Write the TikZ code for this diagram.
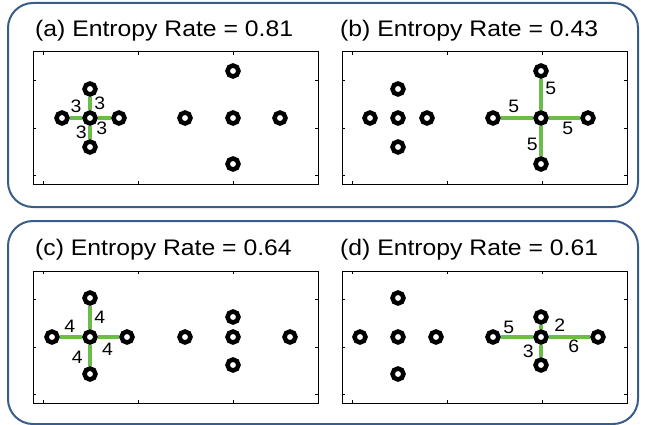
\documentclass[tikz,border=0pt]{standalone}
\usepackage{fontspec}
\setmainfont{Liberation Sans}
\usepackage{graphicx}
\usetikzlibrary{positioning}
\definecolor{frameblue}{RGB}{56,93,138}
\definecolor{edgegreen}{RGB}{104,190,70}

\newcommand\titletext[1]{\scalebox{1.1}[1]{#1}}
\newcommand\wtext[1]{\scalebox{1.08}[1]{#1}}

% box with ticks, origin at top left corner of the axes
\newcommand\axesbox{%
  \draw[axbox] (0,0) rectangle (285,132);
  \draw[tick] (10,0) -- (10,3) (105,0) -- (105,3) (200,0) -- (200,3)
    (10,132) -- (10,129) (105,132) -- (105,129) (200,132) -- (200,129)
    (0,28) -- (3,28) (0,76) -- (3,76) (0,123) -- (3,123)
    (285,28) -- (282,28) (285,76) -- (282,76) (285,123) -- (282,123);
}
% five nodes: name, centre x, left, right, up, down
\newcommand\plusgroup[6]{%
  \node[vtx] (#1c) at (#2,66) {};
  \node[vtx] (#1l) at (#2-#3,66) {};
  \node[vtx] (#1r) at (#2+#4,66) {};
  \node[vtx] (#1t) at (#2,66-#5) {};
  \node[vtx] (#1b) at (#2,66+#6) {};
}

\tikzset{
  frame/.style={draw=frameblue, line width=2pt, rounded corners=25pt},
  axbox/.style={draw=black, line width=1pt},
  tick/.style={draw=black, line width=0.7pt},
  vtx/.style={circle, draw=black, line width=4.5pt, fill=white, inner sep=0pt, minimum size=11pt},
  spoke/.style={draw=edgegreen, line width=4.5pt},
  wt/.style={font=\fontsize{18}{18}\selectfont, inner sep=1pt},
  title/.style={font=\fontsize{22.5}{24}\selectfont, anchor=base west, inner sep=0pt}
}

\begin{document}
\begin{tikzpicture}[x=1pt, y=-1pt]
  \useasboundingbox (0,0) rectangle (645,425);
  \draw[frame] (8,3) rectangle (638,207);
  \draw[frame] (8,221) rectangle (638,424);

  % (a)
  \node[title] (ta) at (35,36.5) {\titletext{(a) Entropy Rate = 0.81}};
  \begin{scope}[shift={(33,52)}]
    \axesbox
    \plusgroup{a1}{57}{28}{29}{29}{29}
    \plusgroup{a2}{200}{48}{47}{47}{46}
    \draw[spoke] (a1c) -- node[wt, above=2pt] {\wtext{3}} (a1l);
    \draw[spoke] (a1c) -- node[wt, right=1pt] {\wtext{3}} (a1t);
    \draw[spoke] (a1c) -- node[wt, below=1pt, pos=0.3] {\wtext{3}} (a1r);
    \draw[spoke] (a1c) -- node[wt, left=0pt] {\wtext{3}} (a1b);
  \end{scope}

  % (b)
  \node[title] (tb) at (340,36.5) {\titletext{(b) Entropy Rate = 0.43}};
  \begin{scope}[shift={(342,52)}]
    \axesbox
    \plusgroup{b1}{56}{28}{29}{29}{29}
    \plusgroup{b2}{199}{48}{47}{47}{46}
    \draw[spoke] (b2c) -- node[wt, above=2pt, pos=0.6] {\wtext{5}} (b2l);
    \draw[spoke] (b2c) -- node[wt, right=1pt, pos=0.7] {\wtext{5}} (b2t);
    \draw[spoke] (b2c) -- node[wt, below=1pt, pos=0.6] {\wtext{5}} (b2r);
    \draw[spoke] (b2c) -- node[wt, left=0pt, pos=0.6] {\wtext{5}} (b2b);
  \end{scope}

  % (c)
  \node[title] (tc) at (35,255) {\titletext{(c) Entropy Rate = 0.64}};
  \begin{scope}[shift={(33,271)}]
    \axesbox
    \plusgroup{c1}{57}{38}{37}{39}{37}
    \plusgroup{c2}{200}{48}{57}{20}{28}
    \draw[spoke] (c1c) -- node[wt, above=1pt, pos=0.55] {\wtext{4}} (c1l);
    \draw[spoke] (c1c) -- node[wt, right=1pt] {\wtext{4}} (c1t);
    \draw[spoke] (c1c) -- node[wt, below=3pt, pos=0.45] {\wtext{4}} (c1r);
    \draw[spoke] (c1c) -- node[wt, left=4pt, pos=0.6] {\wtext{4}} (c1b);
  \end{scope}

  % (d)
  \node[title] (td) at (340,255) {\titletext{(d) Entropy Rate = 0.61}};
  \begin{scope}[shift={(342,271)}]
    \axesbox
    \plusgroup{d1}{56}{38}{38}{39}{37}
    \plusgroup{d2}{199}{48}{57}{20}{28}
    \draw[spoke] (d2c) -- node[wt, above=0pt, pos=0.75] {\wtext{5}} (d2l);
    \draw[spoke] (d2c) -- node[wt, right=10pt, pos=0.8] {\wtext{2}} (d2t);
    \draw[spoke] (d2c) -- node[wt, below=0pt, pos=0.6] {\wtext{6}} (d2r);
    \draw[spoke] (d2c) -- node[wt, left=4pt, pos=0.5] {\wtext{3}} (d2b);
  \end{scope}
\end{tikzpicture}
\end{document}
